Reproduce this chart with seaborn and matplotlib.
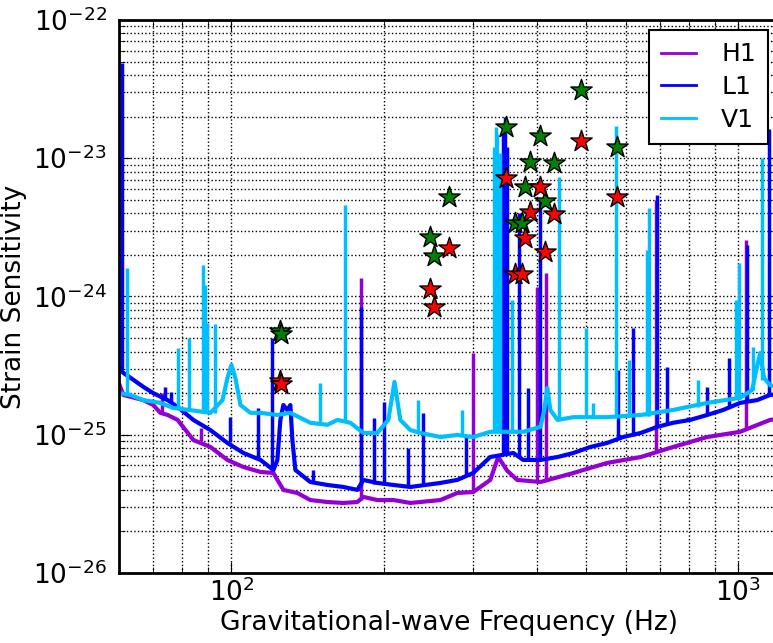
import numpy as np
import pandas as pd
import seaborn as sns
import matplotlib
matplotlib.use("Agg")
import matplotlib.pyplot as plt
from matplotlib.ticker import NullFormatter

# baseline noise curves (Hz, strain)
h1_freq = [60.1, 61.2, 67.0, 70.1, 72.4, 74.8, 78.3, 84.1, 90.9, 98.2,
           105.6, 114.1, 121.0, 126.6, 134.9, 143.1, 154.7, 166.3, 177.2, 182.1,
           194.0, 208.8, 225.5, 258.5, 279.0, 300.0, 324.2, 336.1, 350.0, 366.5,
           407.3, 473.1, 551.2, 642.5, 744.0, 869.0, 1009, 1156, 1200]
h1_val = [2.3e-25, 1.94e-25, 1.78e-25, 1.64e-25, 1.44e-25, 1.39e-25, 1.28e-25, 9.16e-26, 8.15e-26, 6.57e-26,
          5.84e-26, 5.38e-26, 5.29e-26, 3.99e-26, 3.79e-26, 3.37e-26, 3.26e-26, 3.21e-26, 3.26e-26, 3.55e-26,
          3.37e-26, 3.37e-26, 3.21e-26, 3.37e-26, 3.79e-26, 3.85e-26, 4.71e-26, 6.90e-26, 5.5e-26, 4.71e-26,
          4.55e-26, 5.29e-26, 6.25e-26, 6.90e-26, 8.15e-26, 9.63e-26, 1.05e-25, 1.28e-25, 1.3e-25]

l1_freq = [60.1, 61.2, 64.1, 67.0, 70.1, 74.8, 78.3, 84.1, 90.9, 98.2,
           105.6, 114.1, 121.0, 123.2, 124.9, 126.6, 128.9, 130.7, 131.9, 133.7,
           143.1, 154.7, 166.3, 177.2, 182.1, 194.0, 208.8, 225.5, 258.5, 279.0,
           300.0, 324.2, 360.0, 376.6, 407.3, 440.1, 473.1, 510.7, 551.2, 593.3,
           642.5, 692.0, 744.0, 804.0, 869.0, 934.0, 1009, 1090, 1156, 1200]
l1_val = [3.0e-25, 2.80e-25, 2.49e-25, 2.22e-25, 2.00e-25, 1.78e-25, 1.59e-25, 1.28e-25, 1.08e-25, 8.72e-26,
          7.38e-26, 6.57e-26, 5.56e-26, 6.57e-26, 1.28e-25, 1.64e-25, 1.51e-25, 1.64e-25, 9.16e-26, 5.56e-26,
          4.55e-26, 4.33e-26, 4.19e-26, 3.99e-26, 4.71e-26, 4.48e-26, 4.33e-26, 4.19e-26, 4.48e-26, 4.71e-26,
          5.29e-26, 6.90e-26, 7.38e-26, 6.57e-26, 6.57e-26, 6.90e-26, 7.38e-26, 8.15e-26, 8.72e-26, 9.63e-26,
          1.03e-25, 1.14e-25, 1.22e-25, 1.28e-25, 1.39e-25, 1.51e-25, 1.70e-25, 1.78e-25, 1.94e-25, 1.96e-25]

v1_freq = [60.1, 63.2, 67.0, 72.4, 76.8, 82.6, 90.9, 96.0, 98.2, 100.0,
           101.8, 104.2, 109.0, 114.1, 123.2, 130.7, 143.1, 154.7, 161.9, 171.7,
           182.1, 194.0, 204.0, 209.8, 215.4, 225.5, 236.0, 258.5, 279.0, 300.0,
           324.2, 350.2, 376.6, 407.3, 414.3, 420.2, 425.9, 440.1, 473.1, 551.2,
           642.5, 744.0, 869.0, 1009, 1066, 1086, 1105, 1125, 1156, 1200]
v1_val = [2.0e-25, 1.94e-25, 1.78e-25, 1.70e-25, 1.56e-25, 1.51e-25, 1.44e-25, 1.78e-25, 2.57e-25, 3.20e-25,
          2.57e-25, 1.64e-25, 1.44e-25, 1.44e-25, 1.39e-25, 1.44e-25, 1.22e-25, 1.18e-25, 1.28e-25, 1.22e-25,
          1.03e-25, 1.03e-25, 1.28e-25, 2.41e-25, 1.28e-25, 1.08e-25, 1.03e-25, 9.63e-26, 9.96e-26, 9.63e-26,
          1.05e-25, 1.05e-25, 1.05e-25, 1.14e-25, 1.51e-25, 2.18e-25, 1.51e-25, 1.28e-25, 1.34e-25, 1.34e-25,
          1.39e-25, 1.51e-25, 1.70e-25, 1.85e-25, 2.11e-25, 2.94e-25, 3.90e-25, 2.57e-25, 2.29e-25, 2.2e-25]

# narrow spectral lines: frequency, top, bottom
h1_line_freq = [73.0, 86.9, 180.5, 300.0, 401.8, 418.5, 690, 1037]
h1_line_top = [2.0e-25, 1.12e-25, 1.36e-24, 3.90e-25, 1.17e-24, 1.48e-24, 4.99e-24, 2.56e-24]
h1_line_base = [1.44e-25, 9.0e-26, 3.4e-26, 3.85e-26, 4.55e-26, 4.6e-26, 7.5e-26, 1.1e-25]

l1_line_freq = [60.7, 73.8, 76.1, 99.5, 113.0, 120.5, 145.1, 180.5, 190.9, 200.3,
                223.4, 239.3, 290.5, 344, 347, 350, 370, 385.6, 405.5, 580,
                621, 692, 724, 797, 869, 960, 1042, 1151]
l1_line_top = [4.89e-23, 2.22e-25, 2.04e-25, 1.34e-25, 1.56e-25, 5.01e-25, 5.56e-26, 8.40e-25, 1.32e-25, 1.73e-25,
               8.02e-26, 1.44e-25, 9.63e-26, 1.6e-23, 1.99e-23, 1.2e-23, 4.02e-24, 2.18e-25, 5.16e-24, 2.94e-25,
               5.92e-25, 5.42e-24, 3.09e-25, 1.34e-25, 2.22e-25, 3.59e-25, 2.36e-24, 1.63e-23]
l1_line_base = [3.0e-25, 1.78e-25, 1.7e-25, 8.8e-26, 6.6e-26, 5.6e-26, 4.5e-26, 4.3e-26, 4.4e-26, 4.4e-26,
                4.2e-26, 4.3e-26, 5.0e-26, 7.2e-26, 7.2e-26, 7.3e-26, 7.0e-26, 6.6e-26, 6.6e-26, 9.3e-26,
                9.8e-26, 1.14e-25, 1.18e-25, 1.28e-25, 1.39e-25, 1.55e-25, 1.72e-25, 1.94e-25]

v1_line_freq = [62.1, 78.3, 82.6, 87.7, 88.5, 89.6, 93.0, 149.8, 167.9, 233.8,
                285.5, 329, 332, 335, 339, 358, 444, 501, 518, 575,
                610, 661, 668, 834, 991, 1005, 1071, 1115]
v1_line_top = [1.61e-24, 4.24e-25, 5.01e-25, 1.69e-24, 1.21e-24, 6.43e-25, 6.33e-25, 2.37e-25, 4.59e-24, 1.78e-25,
               1.51e-25, 1.21e-23, 1.68e-23, 1.5e-23, 1.1e-23, 9.43e-25, 7.32e-24, 5.92e-25, 1.70e-25, 1.71e-23,
               3.47e-25, 2.17e-24, 4.37e-24, 2.49e-25, 9.43e-25, 1.75e-24, 4.31e-25, 1.00e-23]
v1_line_base = [1.94e-25, 1.56e-25, 1.51e-25, 1.5e-25, 1.5e-25, 1.5e-25, 1.44e-25, 1.22e-25, 1.25e-25, 1.03e-25,
                9.9e-26, 1.05e-25, 1.05e-25, 1.05e-25, 1.05e-25, 1.05e-25, 1.28e-25, 1.34e-25, 1.34e-25, 1.34e-25,
                1.34e-25, 1.37e-25, 1.37e-25, 1.6e-25, 1.8e-25, 1.8e-25, 2.1e-25, 2.5e-25]

# pulsar markers
star_freq = [124.9, 125.5, 247.0, 250.6, 268.3, 348.3, 363.2, 374.1, 380.2, 388.0,
             406.3, 416.2, 433.6, 490.1, 575.4]
green_val = [5.63e-25, 5.35e-25, 2.68e-24, 1.97e-24, 5.27e-24, 1.67e-23, 3.38e-24, 3.38e-24, 6.16e-24, 9.44e-24,
             1.46e-23, 4.91e-24, 9.19e-24, 3.12e-23, 1.21e-23]
red_val = [2.45e-25, 2.33e-25, 1.13e-24, 8.35e-25, 2.25e-24, 7.16e-24, 1.45e-24, 1.45e-24, 2.64e-24, 4.06e-24,
           6.22e-24, 2.10e-24, 3.95e-24, 1.34e-23, 5.22e-24]

plt.rcParams.update({
    "font.family": ["DejaVu Sans"],
    "font.size": 19,
    "axes.unicode_minus": False,
    "xtick.direction": "in",
    "ytick.direction": "in",
    "xtick.top": True,
    "ytick.right": True,
    "xtick.major.size": 8,
    "ytick.major.size": 8,
    "xtick.minor.size": 4,
    "ytick.minor.size": 4,
    "xtick.major.pad": 4,
    "ytick.major.pad": 9,
})

fig = plt.figure(figsize=(7.73, 6.43), dpi=100)
ax = fig.add_axes([0.154, 0.1089, 0.8528, 0.86])

detectors = [
    ("H1", "#9400d3", h1_freq, h1_val, h1_line_freq, h1_line_top, h1_line_base),
    ("L1", "#0000ff", l1_freq, l1_val, l1_line_freq, l1_line_top, l1_line_base),
    ("V1", "#00bfff", v1_freq, v1_val, v1_line_freq, v1_line_top, v1_line_base),
]

for name, col, f, v, lf, lt, lb in detectors:
    df = pd.DataFrame({"freq": f, "strain": v})
    sns.lineplot(data=df, x="freq", y="strain", color=col, lw=3, label=name,
                 estimator=None, sort=False, ax=ax)
    ax.vlines(lf, lb, lt, colors=col, lw=2.5)

sns.scatterplot(x=star_freq, y=green_val, marker="*", s=260, color="#008000",
                edgecolor="k", linewidth=1, zorder=5, legend=False, ax=ax)
sns.scatterplot(x=star_freq, y=red_val, marker="*", s=260, color="#ff0000",
                edgecolor="k", linewidth=1, zorder=5, legend=False, ax=ax)

ax.set_xscale("log")
ax.set_yscale("log")
ax.set_xlim(60, 1200)
ax.set_ylim(1e-26, 1e-22)
ax.xaxis.set_minor_formatter(NullFormatter())
ax.yaxis.set_minor_formatter(NullFormatter())
ax.grid(True, which="both", ls=":", color="k", lw=1)
for s in ax.spines.values():
    s.set_linewidth(2)

ax.set_xlabel("Gravitational-wave Frequency (Hz)", labelpad=2)
ax.set_ylabel("Strain Sensitivity")

leg = ax.legend(loc="upper right", fontsize=18, frameon=True, fancybox=False,
                edgecolor="k", framealpha=1, borderaxespad=0.4, borderpad=0.5,
                handlelength=1.4, handletextpad=1.0, labelspacing=0.35)
leg.get_frame().set_linewidth(1.5)
for ln in leg.get_lines():
    ln.set_linewidth(2)

fig.savefig("out.png", dpi=100)
